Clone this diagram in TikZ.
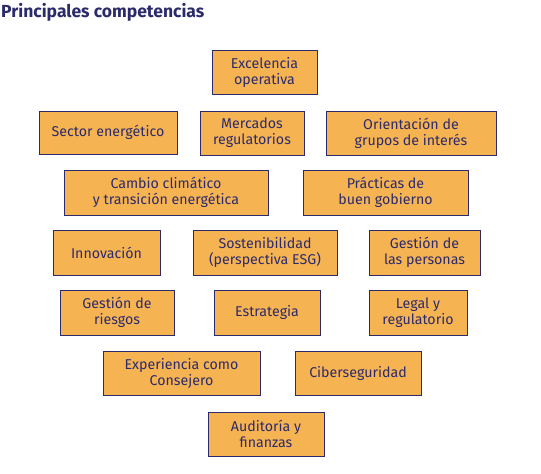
\documentclass[tikz,border=0pt]{standalone}
\usepackage{fontspec}
\setmainfont{Fira Sans}
\definecolor{boxfill}{HTML}{F6B352}
\definecolor{navy}{HTML}{2B2A6B}
\begin{document}
\begin{tikzpicture}[x=1pt,y=-1pt,
  comp/.style={draw=navy, line width=0.9pt, fill=boxfill, text=navy, inner sep=0pt,
    align=center, font=\fontsize{14.2}{16}\selectfont},
]
\useasboundingbox (0,0) rectangle (541,474);
\node[anchor=base west, text=navy, font=\fontsize{17.5}{20}\selectfont\bfseries, inner sep=0pt] (title) at (1,17) {Principales competencias};
\newcommand\cbox[6]{%
  \node[comp, minimum width={#4-#2}, minimum height={#5-#3}] (#1) at ({(#2+#4)/2},{(#3+#5)/2}) {#6};}
\cbox{exc}{212}{50}{317}{94}{Excelencia\\operativa}
\cbox{sec}{39}{111}{177}{154}{Sector energético}
\cbox{mer}{200}{111}{304}{155}{Mercados\\regulatorios}
\cbox{ori}{326}{111}{496}{155}{Orientación de\\grupos de interés}
\cbox{cam}{64}{170}{268}{215}{Cambio climático\\y transición energética}
\cbox{pra}{303}{170}{468}{215}{Prácticas de\\buen gobierno}
\cbox{inn}{53}{230}{160}{275}{Innovación}
\cbox{sos}{193}{230}{337}{275}{Sostenibilidad\\(perspectiva ESG)}
\cbox{per}{369}{230}{480}{275}{Gestión de\\las personas}
\cbox{rie}{60}{290}{174}{335}{Gestión de\\riesgos}
\cbox{est}{214}{290}{320}{335}{Estrategia}
\cbox{leg}{369}{290}{467}{335}{Legal y\\regulatorio}
\cbox{exp}{103}{351}{260}{395}{Experiencia como\\Consejero}
\cbox{cib}{295}{351}{421}{395}{Ciberseguridad}
\cbox{aud}{208}{412}{324}{456}{Auditoría y\\finanzas}
\end{tikzpicture}
\end{document}
